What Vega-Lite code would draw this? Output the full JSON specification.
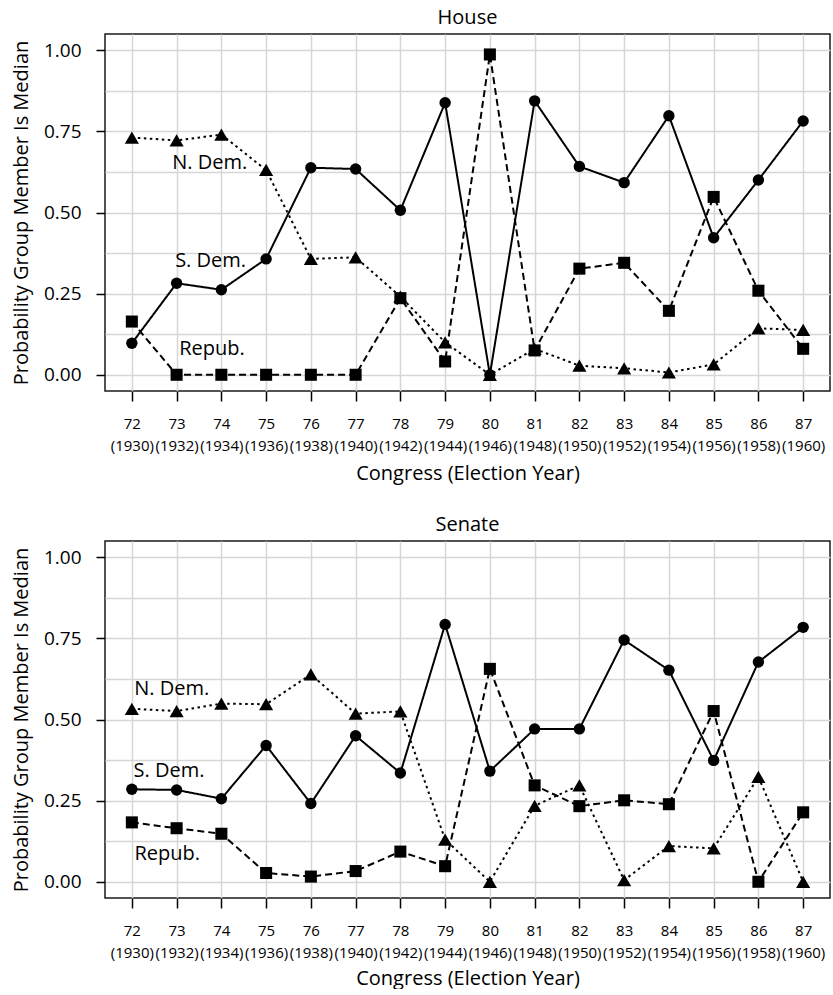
{
  "$schema": "https://vega.github.io/schema/vega-lite/v6.json",
  "autosize": {"type": "pad"},
  "padding": {"left": 10, "top": 7, "right": 3, "bottom": 0},
  "spacing": 30,
  "config": {
    "font": "Open Sans",
    "view": {"stroke": "#1a1a1a", "strokeWidth": 1.5},
    "title": {"fontSize": 20, "fontWeight": "normal", "color": "black", "anchor": "middle", "offset": 6},
    "axis": {
      "domain": false,
      "grid": true,
      "gridColor": "#d6d6d6",
      "gridWidth": 1.5,
      "tickColor": "black",
      "tickWidth": 1.5,
      "labelColor": "black",
      "titleColor": "black",
      "titleFontWeight": "normal",
      "titleFontSize": 20,
      "labelOverlap": false,
      "labelFlush": false,
      "labelBound": false
    }
  },
  "datasets": {
    "pts": [
      {"chamber": "House", "group": "S. Dem.", "cong": 72, "p": 0.097},
      {"chamber": "House", "group": "S. Dem.", "cong": 73, "p": 0.282},
      {"chamber": "House", "group": "S. Dem.", "cong": 74, "p": 0.262},
      {"chamber": "House", "group": "S. Dem.", "cong": 75, "p": 0.357},
      {"chamber": "House", "group": "S. Dem.", "cong": 76, "p": 0.638},
      {"chamber": "House", "group": "S. Dem.", "cong": 77, "p": 0.634},
      {"chamber": "House", "group": "S. Dem.", "cong": 78, "p": 0.507},
      {"chamber": "House", "group": "S. Dem.", "cong": 79, "p": 0.838},
      {"chamber": "House", "group": "S. Dem.", "cong": 80, "p": 0.0},
      {"chamber": "House", "group": "S. Dem.", "cong": 81, "p": 0.844},
      {"chamber": "House", "group": "S. Dem.", "cong": 82, "p": 0.642},
      {"chamber": "House", "group": "S. Dem.", "cong": 83, "p": 0.592},
      {"chamber": "House", "group": "S. Dem.", "cong": 84, "p": 0.798},
      {"chamber": "House", "group": "S. Dem.", "cong": 85, "p": 0.422},
      {"chamber": "House", "group": "S. Dem.", "cong": 86, "p": 0.600},
      {"chamber": "House", "group": "S. Dem.", "cong": 87, "p": 0.782},
      {"chamber": "House", "group": "N. Dem.", "cong": 72, "p": 0.731},
      {"chamber": "House", "group": "N. Dem.", "cong": 73, "p": 0.722},
      {"chamber": "House", "group": "N. Dem.", "cong": 74, "p": 0.740},
      {"chamber": "House", "group": "N. Dem.", "cong": 75, "p": 0.631},
      {"chamber": "House", "group": "N. Dem.", "cong": 76, "p": 0.357},
      {"chamber": "House", "group": "N. Dem.", "cong": 77, "p": 0.362},
      {"chamber": "House", "group": "N. Dem.", "cong": 78, "p": 0.241},
      {"chamber": "House", "group": "N. Dem.", "cong": 79, "p": 0.100},
      {"chamber": "House", "group": "N. Dem.", "cong": 80, "p": 0.0},
      {"chamber": "House", "group": "N. Dem.", "cong": 81, "p": 0.080},
      {"chamber": "House", "group": "N. Dem.", "cong": 82, "p": 0.028},
      {"chamber": "House", "group": "N. Dem.", "cong": 83, "p": 0.020},
      {"chamber": "House", "group": "N. Dem.", "cong": 84, "p": 0.007},
      {"chamber": "House", "group": "N. Dem.", "cong": 85, "p": 0.032},
      {"chamber": "House", "group": "N. Dem.", "cong": 86, "p": 0.143},
      {"chamber": "House", "group": "N. Dem.", "cong": 87, "p": 0.138},
      {"chamber": "House", "group": "Repub.", "cong": 72, "p": 0.164},
      {"chamber": "House", "group": "Repub.", "cong": 73, "p": 0.0},
      {"chamber": "House", "group": "Repub.", "cong": 74, "p": 0.0},
      {"chamber": "House", "group": "Repub.", "cong": 75, "p": 0.0},
      {"chamber": "House", "group": "Repub.", "cong": 76, "p": 0.0},
      {"chamber": "House", "group": "Repub.", "cong": 77, "p": 0.0},
      {"chamber": "House", "group": "Repub.", "cong": 78, "p": 0.236},
      {"chamber": "House", "group": "Repub.", "cong": 79, "p": 0.041},
      {"chamber": "House", "group": "Repub.", "cong": 80, "p": 0.987},
      {"chamber": "House", "group": "Repub.", "cong": 81, "p": 0.075},
      {"chamber": "House", "group": "Repub.", "cong": 82, "p": 0.327},
      {"chamber": "House", "group": "Repub.", "cong": 83, "p": 0.345},
      {"chamber": "House", "group": "Repub.", "cong": 84, "p": 0.197},
      {"chamber": "House", "group": "Repub.", "cong": 85, "p": 0.548},
      {"chamber": "House", "group": "Repub.", "cong": 86, "p": 0.259},
      {"chamber": "House", "group": "Repub.", "cong": 87, "p": 0.080},
      {"chamber": "Senate", "group": "S. Dem.", "cong": 72, "p": 0.285},
      {"chamber": "Senate", "group": "S. Dem.", "cong": 73, "p": 0.283},
      {"chamber": "Senate", "group": "S. Dem.", "cong": 74, "p": 0.256},
      {"chamber": "Senate", "group": "S. Dem.", "cong": 75, "p": 0.420},
      {"chamber": "Senate", "group": "S. Dem.", "cong": 76, "p": 0.241},
      {"chamber": "Senate", "group": "S. Dem.", "cong": 77, "p": 0.450},
      {"chamber": "Senate", "group": "S. Dem.", "cong": 78, "p": 0.335},
      {"chamber": "Senate", "group": "S. Dem.", "cong": 79, "p": 0.793},
      {"chamber": "Senate", "group": "S. Dem.", "cong": 80, "p": 0.341},
      {"chamber": "Senate", "group": "S. Dem.", "cong": 81, "p": 0.471},
      {"chamber": "Senate", "group": "S. Dem.", "cong": 82, "p": 0.471},
      {"chamber": "Senate", "group": "S. Dem.", "cong": 83, "p": 0.745},
      {"chamber": "Senate", "group": "S. Dem.", "cong": 84, "p": 0.652},
      {"chamber": "Senate", "group": "S. Dem.", "cong": 85, "p": 0.374},
      {"chamber": "Senate", "group": "S. Dem.", "cong": 86, "p": 0.677},
      {"chamber": "Senate", "group": "S. Dem.", "cong": 87, "p": 0.784},
      {"chamber": "Senate", "group": "N. Dem.", "cong": 72, "p": 0.533},
      {"chamber": "Senate", "group": "N. Dem.", "cong": 73, "p": 0.526},
      {"chamber": "Senate", "group": "N. Dem.", "cong": 74, "p": 0.549},
      {"chamber": "Senate", "group": "N. Dem.", "cong": 75, "p": 0.547},
      {"chamber": "Senate", "group": "N. Dem.", "cong": 76, "p": 0.639},
      {"chamber": "Senate", "group": "N. Dem.", "cong": 77, "p": 0.518},
      {"chamber": "Senate", "group": "N. Dem.", "cong": 78, "p": 0.525},
      {"chamber": "Senate", "group": "N. Dem.", "cong": 79, "p": 0.130},
      {"chamber": "Senate", "group": "N. Dem.", "cong": 80, "p": 0.0},
      {"chamber": "Senate", "group": "N. Dem.", "cong": 81, "p": 0.234},
      {"chamber": "Senate", "group": "N. Dem.", "cong": 82, "p": 0.297},
      {"chamber": "Senate", "group": "N. Dem.", "cong": 83, "p": 0.005},
      {"chamber": "Senate", "group": "N. Dem.", "cong": 84, "p": 0.110},
      {"chamber": "Senate", "group": "N. Dem.", "cong": 85, "p": 0.103},
      {"chamber": "Senate", "group": "N. Dem.", "cong": 86, "p": 0.323},
      {"chamber": "Senate", "group": "N. Dem.", "cong": 87, "p": 0.0},
      {"chamber": "Senate", "group": "Repub.", "cong": 72, "p": 0.183},
      {"chamber": "Senate", "group": "Repub.", "cong": 73, "p": 0.165},
      {"chamber": "Senate", "group": "Repub.", "cong": 74, "p": 0.148},
      {"chamber": "Senate", "group": "Repub.", "cong": 75, "p": 0.027},
      {"chamber": "Senate", "group": "Repub.", "cong": 76, "p": 0.016},
      {"chamber": "Senate", "group": "Repub.", "cong": 77, "p": 0.033},
      {"chamber": "Senate", "group": "Repub.", "cong": 78, "p": 0.093},
      {"chamber": "Senate", "group": "Repub.", "cong": 79, "p": 0.048},
      {"chamber": "Senate", "group": "Repub.", "cong": 80, "p": 0.656},
      {"chamber": "Senate", "group": "Repub.", "cong": 81, "p": 0.297},
      {"chamber": "Senate", "group": "Repub.", "cong": 82, "p": 0.233},
      {"chamber": "Senate", "group": "Repub.", "cong": 83, "p": 0.251},
      {"chamber": "Senate", "group": "Repub.", "cong": 84, "p": 0.239},
      {"chamber": "Senate", "group": "Repub.", "cong": 85, "p": 0.526},
      {"chamber": "Senate", "group": "Repub.", "cong": 86, "p": 0.0},
      {"chamber": "Senate", "group": "Repub.", "cong": 87, "p": 0.214}
    ],
    "labs": [
      {"chamber": "House", "label": "N. Dem.", "cong": 73.74, "p": 0.653},
      {"chamber": "House", "label": "S. Dem.", "cong": 73.76, "p": 0.352},
      {"chamber": "House", "label": "Repub.", "cong": 73.79, "p": 0.08},
      {"chamber": "Senate", "label": "N. Dem.", "cong": 72.89, "p": 0.595},
      {"chamber": "Senate", "label": "S. Dem.", "cong": 72.83, "p": 0.342},
      {"chamber": "Senate", "label": "Repub.", "cong": 72.79, "p": 0.087}
    ]
  },
  "vconcat": [
    {
      "title": "House",
      "width": 725,
      "height": 357,
      "encoding": {
        "x": {
          "field": "cong", "type": "quantitative",
          "scale": {"domain": [71.4, 87.6], "nice": false, "zero": false},
          "axis": {
            "title": "Congress (Election Year)",
            "values": [72, 73, 74, 75, 76, 77, 78, 79, 80, 81, 82, 83, 84, 85, 86, 87],
            "labelExpr": "[datum.label, '(' + (1930 + 2 * (datum.value - 72)) + ')']",
            "labelFontSize": 15,
            "labelLineHeight": 22,
            "tickSize": 10,
            "labelPadding": 15,
            "titlePadding": 10
          }
        },
        "y": {
          "field": "p", "type": "quantitative",
          "scale": {"domain": [-0.05, 1.05], "nice": false, "zero": false},
          "axis": {
            "title": "Probability Group Member Is Median",
            "values": [0, 0.125, 0.25, 0.375, 0.5, 0.625, 0.75, 0.875, 1],
            "labelExpr": "(datum.value * 8) % 2 == 0 ? format(datum.value, '.2f') : ''",
            "tickColor": {"condition": {"test": "(datum.value * 8) % 2 == 0", "value": "black"}, "value": "transparent"},
            "labelFontSize": 19,
            "tickSize": 9,
            "labelPadding": 15,
            "titlePadding": 12
          }
        }
      },
      "layer": [
        {
          "data": {"name": "pts"},
          "transform": [{"filter": "datum.chamber == 'House'"}],
          "mark": {"type": "line", "color": "black", "strokeWidth": 2},
          "encoding": {
            "strokeDash": {"field": "group", "type": "nominal", "legend": null,
              "scale": {"domain": ["S. Dem.", "N. Dem.", "Repub."], "range": [[1, 0], [2.5, 3.5], [7, 4]]}}
          }
        },
        {
          "data": {"name": "pts"},
          "transform": [{"filter": "datum.chamber == 'House'"}],
          "mark": {"type": "point", "filled": true, "color": "black", "opacity": 1},
          "encoding": {
            "shape": {"field": "group", "type": "nominal", "legend": null,
              "scale": {"domain": ["S. Dem.", "N. Dem.", "Repub."], "range": ["circle", "triangle-up", "square"]}},
            "size": {"field": "group", "type": "nominal", "legend": null,
              "scale": {"type": "ordinal", "domain": ["S. Dem.", "N. Dem.", "Repub."], "range": [130, 200, 145]}}
          }
        },
        {
          "data": {"name": "labs"},
          "transform": [{"filter": "datum.chamber == 'House'"}],
          "mark": {"type": "text", "fontSize": 20, "color": "black"},
          "encoding": {"text": {"field": "label", "type": "nominal"}}
        }
      ]
    },
    {
      "title": "Senate",
      "width": 725,
      "height": 357,
      "encoding": {
        "x": {
          "field": "cong", "type": "quantitative",
          "scale": {"domain": [71.4, 87.6], "nice": false, "zero": false},
          "axis": {
            "title": "Congress (Election Year)",
            "values": [72, 73, 74, 75, 76, 77, 78, 79, 80, 81, 82, 83, 84, 85, 86, 87],
            "labelExpr": "[datum.label, '(' + (1930 + 2 * (datum.value - 72)) + ')']",
            "labelFontSize": 15,
            "labelLineHeight": 22,
            "tickSize": 10,
            "labelPadding": 15,
            "titlePadding": 8
          }
        },
        "y": {
          "field": "p", "type": "quantitative",
          "scale": {"domain": [-0.05, 1.05], "nice": false, "zero": false},
          "axis": {
            "title": "Probability Group Member Is Median",
            "values": [0, 0.125, 0.25, 0.375, 0.5, 0.625, 0.75, 0.875, 1],
            "labelExpr": "(datum.value * 8) % 2 == 0 ? format(datum.value, '.2f') : ''",
            "tickColor": {"condition": {"test": "(datum.value * 8) % 2 == 0", "value": "black"}, "value": "transparent"},
            "labelFontSize": 19,
            "tickSize": 9,
            "labelPadding": 15,
            "titlePadding": 12
          }
        }
      },
      "layer": [
        {
          "data": {"name": "pts"},
          "transform": [{"filter": "datum.chamber == 'Senate'"}],
          "mark": {"type": "line", "color": "black", "strokeWidth": 2},
          "encoding": {
            "strokeDash": {"field": "group", "type": "nominal", "legend": null,
              "scale": {"domain": ["S. Dem.", "N. Dem.", "Repub."], "range": [[1, 0], [2.5, 3.5], [7, 4]]}}
          }
        },
        {
          "data": {"name": "pts"},
          "transform": [{"filter": "datum.chamber == 'Senate'"}],
          "mark": {"type": "point", "filled": true, "color": "black", "opacity": 1},
          "encoding": {
            "shape": {"field": "group", "type": "nominal", "legend": null,
              "scale": {"domain": ["S. Dem.", "N. Dem.", "Repub."], "range": ["circle", "triangle-up", "square"]}},
            "size": {"field": "group", "type": "nominal", "legend": null,
              "scale": {"type": "ordinal", "domain": ["S. Dem.", "N. Dem.", "Repub."], "range": [130, 200, 145]}}
          }
        },
        {
          "data": {"name": "labs"},
          "transform": [{"filter": "datum.chamber == 'Senate'"}],
          "mark": {"type": "text", "fontSize": 20, "color": "black"},
          "encoding": {"text": {"field": "label", "type": "nominal"}}
        }
      ]
    }
  ]
}
